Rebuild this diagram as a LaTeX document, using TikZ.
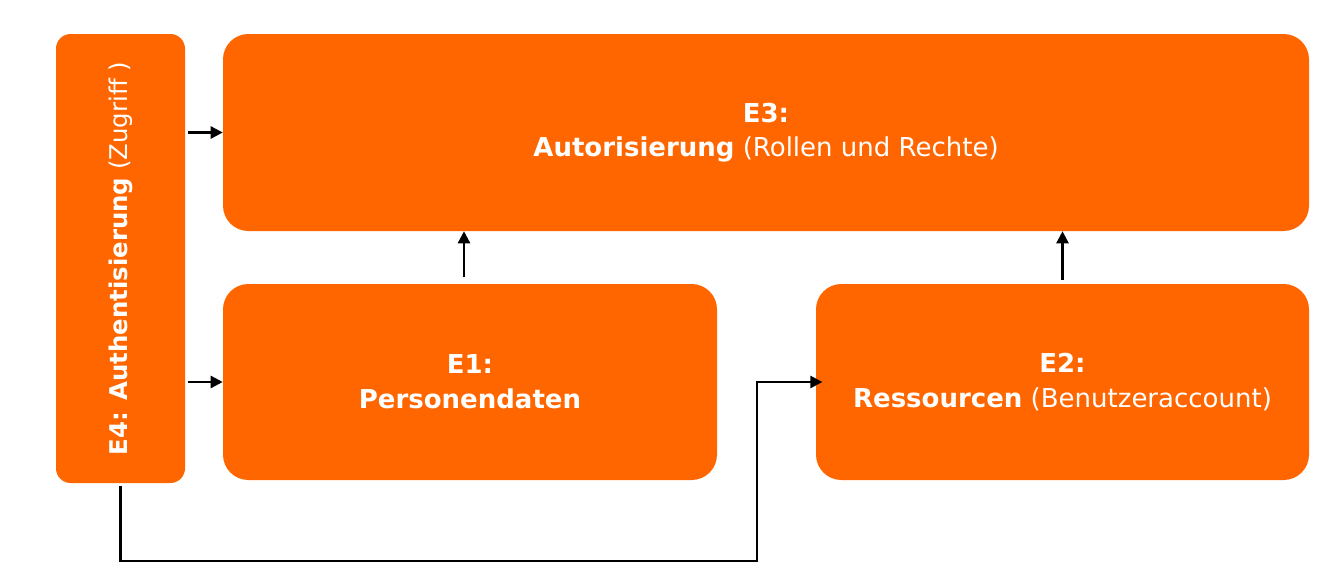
\documentclass[tikz,border=0pt]{standalone}
\usepackage{fontspec}
\setmainfont{DejaVu Sans}
\usetikzlibrary{arrows.meta}
\definecolor{org}{HTML}{FF6600}
\tikzset{
  box/.style={draw=none, fill=org, rounded corners=19pt, text=white, align=center, inner sep=0pt,
    font=\fontsize{19.5}{26}\selectfont},
  arr/.style={line width=1.8pt, -{Triangle[length=9pt,width=9pt]}},
}
\begin{document}
\begin{tikzpicture}[x=0.75pt,y=-0.75pt]
\useasboundingbox (0,0) rectangle (1342,579);
\node[box, minimum width=129*0.75pt, minimum height=449*0.75pt, rounded corners=11pt] (E4) at (120.5,258.5) {};
\node[text=white, rotate=90, font=\fontsize{18.3}{25}\selectfont] (E4t) at (E4.center) {\textbf{E4: Authentisierung} (Zugriff )};
\node[box, minimum width=1086*0.75pt, minimum height=197*0.75pt] (E3) at (766,132.5) {\textbf{E3:}\\\textbf{Autorisierung} (Rollen und Rechte)};
\node[box, minimum width=494*0.75pt, minimum height=196*0.75pt] (E1) at (470,382) {\textbf{E1:}\\\textbf{Personendaten}};
\node[box, minimum width=493*0.75pt, minimum height=196*0.75pt] (E2) at (1062.5,382) {\textbf{E2:}\\\textbf{Ressourcen} (Benutzeraccount)};
\draw[arr, shorten <=2pt] (E4.east |- E3.west) -- (E3.west);
\draw[arr, shorten <=2pt] (E4.east |- E1.west) -- (E1.west);
\draw[arr, shorten <=5pt] ([xshift=-4.5pt]E1.north) -- ([xshift=-4.5pt]E1.north |- E3.south);
\draw[arr, shorten <=3pt] (E2.north) -- (E2.north |- E3.south);
\coordinate (c1) at (757,561);
\draw[arr, shorten <=2pt, shorten >=-5pt] (E4.south) |- (c1) |- (E2.west);
\end{tikzpicture}
\end{document}
